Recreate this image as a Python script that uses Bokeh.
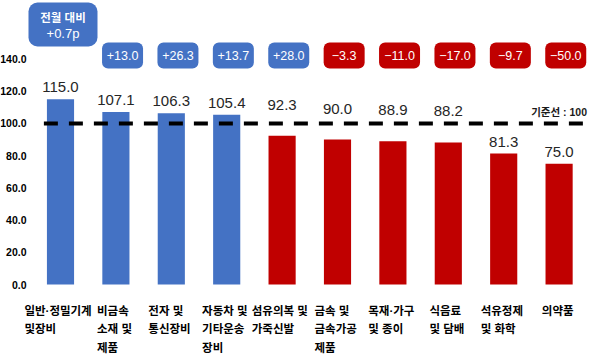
from bokeh.plotting import figure
from bokeh.models import Range1d, ColumnDataSource
from bokeh.core.properties import value
from bokeh.embed import file_html
from bokeh.resources import INLINE

# ---------------- data ----------------
categories = [
    "일반·정밀기계\n및장비",
    "비금속\n소재 및\n제품",
    "전자 및\n통신장비",
    "자동차 및\n기타운송\n장비",
    "섬유의복 및\n가죽신발",
    "금속 및\n금속가공\n제품",
    "목재·가구\n및 종이",
    "식음료\n및 담배",
    "석유정제\n및 화학",
    "의약품",
]
values = [115.0, 107.1, 106.3, 105.4, 92.3, 90.0, 88.9, 88.2, 81.3, 75.0]
changes = [0.7, 13.0, 26.3, 13.7, 28.0, -3.3, -11.0, -17.0, -9.7, -50.0]
header_title = "전월 대비"
baseline = 100
baseline_label = "기준선 : 100"
y_ticks = [0, 20, 40, 60, 80, 100, 120, 140]

# ---------------- style / layout ----------------
BLUE = "#4472C4"
RED = "#C00000"
NUM_FONT = "Liberation Sans"
KR_FONT = "Liberation Sans, Noto Sans CJK KR"
W, H = 592, 356
T0 = -1                                   # observed picture y of the canvas top
L0 = 0                                    # observed picture x of the canvas left
ZERO_PX, TOP140_PX = 283, 57.5            # picture-pixel targets for 0 and 140
ppu_y = (ZERO_PX - TOP140_PX) / 140.0
Y1 = (ZERO_PX - T0) / ppu_y
Y0 = -((T0 + H) - ZERO_PX) / ppu_y
PPU_X = 55.4
FIRST_PX = 60
X0 = (L0 - FIRST_PX) / PPU_X
X1 = X0 + W / PPU_X

n = len(values)
idx = list(range(n))
bar_colors = [BLUE if v >= baseline else RED for v in values]

p = figure(width=W, height=H, output_backend="svg", toolbar_location=None,
           x_range=Range1d(X0, X1), y_range=Range1d(Y0, Y1),
           min_border_left=0, min_border_right=0, min_border_top=0, min_border_bottom=0)
p.outline_line_color = None
p.background_fill_color = "white"
p.border_fill_color = "white"
p.xgrid.visible = False
p.ygrid.visible = False
p.xaxis.visible = False
p.yaxis.visible = False

# y tick labels (placed by the y scale)
p.text(x=[X0] * len(y_ticks), y=y_ticks, text=[f"{t:.1f}" for t in y_ticks],
       x_offset=26, text_align="right", text_baseline="middle",
       text_font=value(NUM_FONT), text_font_size="10.5px", text_font_style="bold",
       text_color="black")

# bars
BAR_W = 0.49
src = ColumnDataSource(dict(x=idx, top=values, color=bar_colors,
                            label=[f"{v:.1f}" for v in values],
                            yoff=[-26 if (85 < v < baseline) else -7 for v in values]))
p.vbar(x="x", top="top", bottom=0, width=BAR_W, color="color", line_color=None, source=src)

# value labels
p.text(x="x", y="top", text="label", y_offset="yoff", source=src,
       text_align="center", text_baseline="bottom",
       text_font=value(NUM_FONT), text_font_size="15px", text_color="#262626")

# baseline (starts just left of the first bar, runs to the right edge)
line_start = idx[0] - BAR_W / 2 - 0.055
p.line(x=[line_start, X1], y=[baseline, baseline], line_color="black",
       line_width=4, line_dash="14 11")
p.text(x=[n - 1], y=[baseline], text=[baseline_label], y_offset=-11,
       text_align="center", text_baseline="middle",
       text_font=value(KR_FONT), text_font_size="10.5px", text_font_style="bold",
       text_color="#1a1a1a")

# category labels (lines left-aligned, block centred on bar)
KFS = 11.5
def est_width(s):
    w = 0.0
    for c in s:
        if "\uac00" <= c <= "\ud7a3":
            w += KFS * 1.0
        else:
            w += KFS * 0.28
    return w

lx, ly, lt, lo = [], [], [], []
line_top_px = 309 - ZERO_PX
line_step_px = 18.5
for i, cat in enumerate(categories):
    lines = cat.split("\n")
    bw = max(est_width(s) for s in lines)
    for j, s in enumerate(lines):
        lx.append(i)
        ly.append(-(line_top_px + j * line_step_px) / ppu_y)
        lt.append(s)
        lo.append(-bw / 2)
p.text(x=lx, y=ly, text=lt, x_offset=lo, text_align="left", text_baseline="middle",
       text_font=value(KR_FONT), text_font_size=f"{KFS}px", text_font_style="bold",
       text_color="black")

# change boxes
box_y = (ZERO_PX - 54) / ppu_y
hdr_y = (ZERO_PX - 23) / ppu_y
bx = [i + 0.12 for i in idx[1:]]
bcol = [BLUE if c >= 0 else RED for c in changes[1:]]
btxt = [("+" if c >= 0 else "\u2212") + f"{abs(c):.1f}" for c in changes[1:]]
p.rect(x=bx, y=[box_y] * len(bx), width=41, height=26, width_units="screen",
       height_units="screen", fill_color=bcol, line_color=None, border_radius=6)
p.text(x=bx, y=[box_y] * len(bx), text=btxt, text_align="center", text_baseline="middle",
       text_font=value(NUM_FONT), text_font_size="12.5px", text_color="white")

# header box for first category
hc = changes[0]
hx = idx[0] + 0.045
p.rect(x=[hx], y=[hdr_y], width=69, height=44, width_units="screen",
       height_units="screen", fill_color=BLUE if hc >= 0 else RED, line_color=None,
       border_radius=9)
p.text(x=[hx], y=[hdr_y], text=[header_title], y_offset=-7, text_align="center",
       text_baseline="middle", text_font=value(KR_FONT), text_font_size="11.5px",
       text_font_style="bold", text_color="white")
p.text(x=[hx], y=[hdr_y], text=[("+" if hc >= 0 else "\u2212") + f"{abs(hc):.1f}p"],
       y_offset=9, text_align="center", text_baseline="middle",
       text_font=value(NUM_FONT), text_font_size="13px", text_color="white")

open("out.html", "w").write(file_html(p, INLINE))
